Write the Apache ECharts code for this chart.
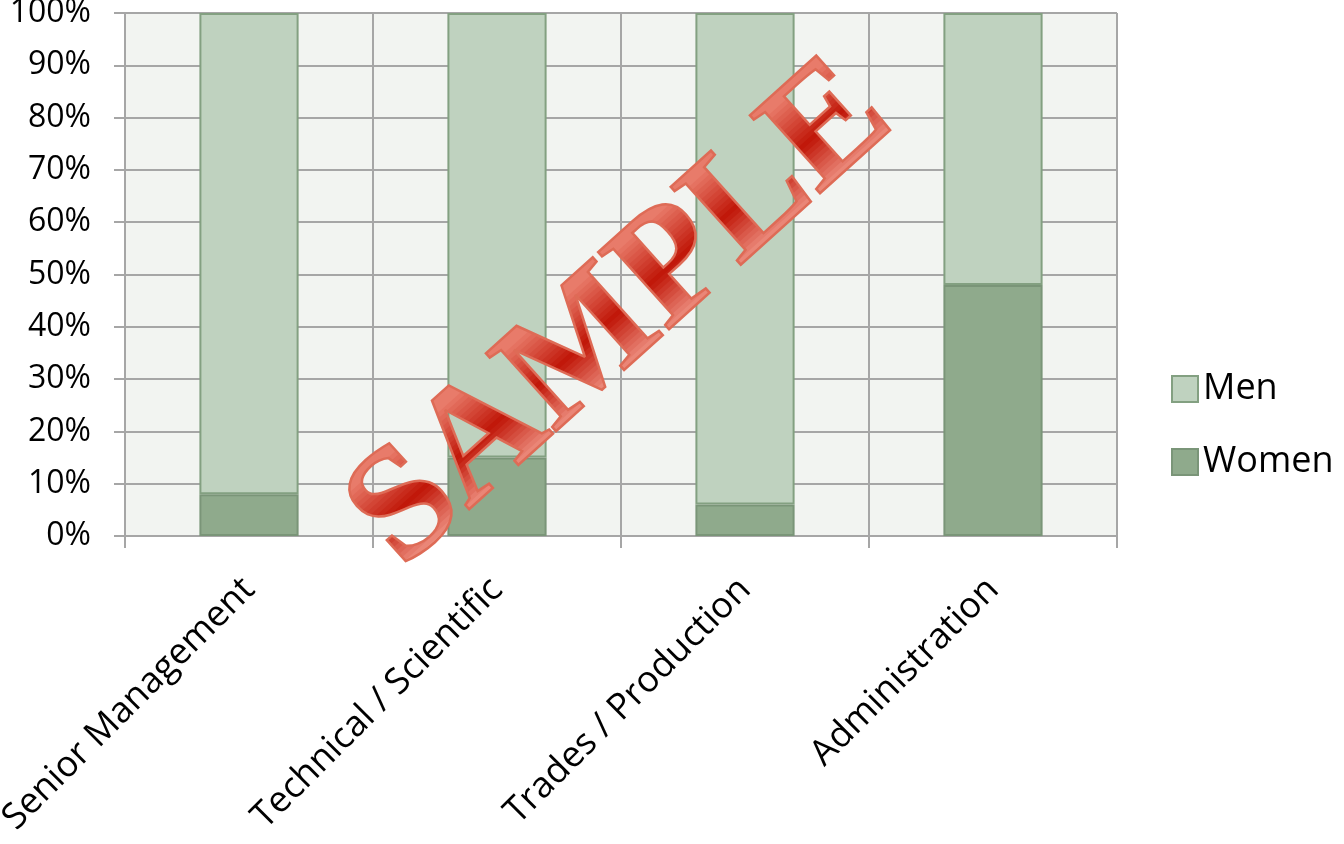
<!DOCTYPE html>
<html>
<head>
<meta charset="utf-8">
<script src="https://cdn.jsdelivr.net/npm/echarts@6/dist/echarts.min.js"></script>
<style>html,body{margin:0;padding:0;background:#fff}#c{width:1344px;height:844px}</style>
</head>
<body>
<div id="c"></div>
<script>
var categories = ['Senior Management', 'Technical / Scientific', 'Trades / Production', 'Administration'];
var women = [8, 15, 6, 48];
var men = [92, 85, 94, 52];
var yTicks = [0, 10, 20, 30, 40, 50, 60, 70, 80, 90, 100];
var watermark = 'SAMPLE';

var chart = echarts.init(document.getElementById('c'));
var font = 'Open Sans';

chart.setOption({
  animation: false,
  backgroundColor: '#ffffff',
  grid: { left: 125, top: 13, right: 227, bottom: 308, show: true, backgroundColor: '#f2f4f1', borderWidth: 0, outerBoundsMode: 'none', containLabel: false },
  legend: {
    data: ['Men', 'Women'], orient: 'vertical', left: 1171, top: 371, padding: 0,
    itemWidth: 26, itemHeight: 26, itemGap: 37, icon: 'rect',
    textStyle: { fontFamily: font, fontSize: 36, lineHeight: 26, color: '#000' }
  },
  xAxis: {
    type: 'category', data: categories,
    axisLine: { show: true, lineStyle: { color: '#a6a6a6', width: 2 } },
    axisTick: { show: true, length: 12, lineStyle: { color: '#a6a6a6', width: 2 } },
    splitLine: { show: true, lineStyle: { color: '#a6a6a6', width: 2 } },
    axisLabel: { rotate: 45, margin: 48, fontFamily: font, fontSize: 36, color: '#000' }
  },
  yAxis: {
    type: 'value', min: yTicks[0], max: yTicks[yTicks.length - 1], interval: 10,
    axisLine: { show: true, lineStyle: { color: '#a6a6a6', width: 2 } },
    axisTick: { show: true, length: 11, lineStyle: { color: '#a6a6a6', width: 2 } },
    splitLine: { show: true, lineStyle: { color: '#a6a6a6', width: 2 } },
    axisLabel: { formatter: '{value}%', margin: 34, fontFamily: font, fontSize: 32, color: '#000' }
  },
  series: [
    { name: 'Women', type: 'bar', stack: 'all', data: women, barWidth: '40%',
      itemStyle: { color: '#8faa8c', borderColor: '#7a9578', borderWidth: 2 } },
    { name: 'Men', type: 'bar', stack: 'all', data: men, barWidth: '40%',
      itemStyle: { color: '#bfd2bf', borderColor: '#83a081', borderWidth: 2 } }
  ]
});

// Watermark: real text; the vertical gradient is built from colour bands,
// each a copy of the text clipped to a strip of its own rotated frame.
(function () {
  var wmFont = 'bold 160px "Liberation Serif"';
  var stops = [[0, [234, 128, 110]], [0.45, [192, 22, 8]], [1, [253, 186, 170]]];
  function colorAt(t) {
    for (var i = 0; i < stops.length - 1; i++) {
      var a = stops[i], b = stops[i + 1];
      if (t <= b[0]) {
        var f = (t - a[0]) / (b[0] - a[0]);
        var c = a[1].map(function (v, k) { return Math.round(v + (b[1][k] - v) * f); });
        return 'rgb(' + c.join(',') + ')';
      }
    }
    return 'rgb(' + stops[stops.length - 1][1].join(',') + ')';
  }
  var group = new echarts.graphic.Group({ x: 622, y: 316, rotation: 42 * Math.PI / 180 });
  var top = -55, bottom = 59, n = 26, step = (bottom - top) / n;
  for (var i = 0; i < n; i++) {
    var y0 = (i === 0 ? -120 : top + i * step) - 0.6;
    var y1 = (i === n - 1 ? 120 : top + (i + 1) * step) + 0.6;
    var t = new echarts.graphic.Text({
      z: 100, zlevel: 0,
      style: { text: watermark, font: wmFont, align: 'center', verticalAlign: 'middle', fill: colorAt((i + 0.5) / n) }
    });
    t.setClipPath(new echarts.graphic.Rect({ shape: { x: -500, y: y0, width: 1000, height: y1 - y0 } }));
    group.add(t);
  }
  group.add(new echarts.graphic.Text({
    z: 101, zlevel: 0,
    style: { text: watermark, font: wmFont, align: 'center', verticalAlign: 'middle', fill: 'none', stroke: '#de6b56', lineWidth: 2.5 }
  }));
  chart.getZr().add(group);
})();
</script>
</body>
</html>
